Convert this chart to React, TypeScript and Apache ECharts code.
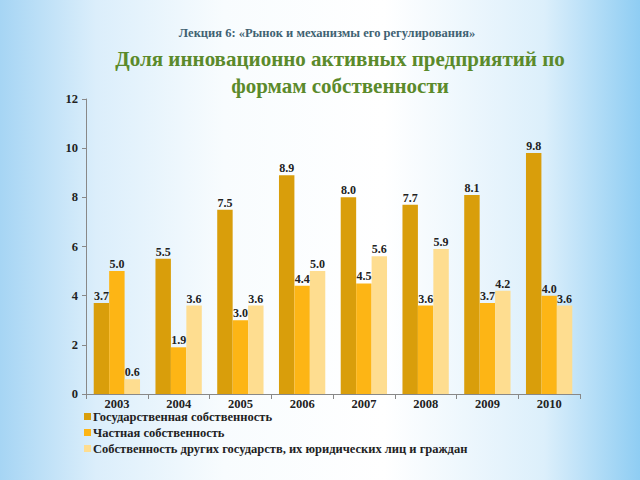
import React, { useEffect, useRef } from "react";
import * as echarts from "echarts";

const years = ["2003", "2004", "2005", "2006", "2007", "2008", "2009", "2010"];
const stateOwned = [3.7, 5.5, 7.5, 8.9, 8.0, 7.7, 8.1, 9.8];
const privateOwned = [5.0, 1.9, 3.0, 4.4, 4.5, 3.6, 3.7, 4.0];
const foreignOwned = [0.6, 3.6, 3.6, 5.0, 5.6, 5.9, 4.2, 3.6];
const seriesNames = [
  "Государственная собственность",
  "Частная собственность",
  "Собственность других государств, их юридических лиц и граждан",
];
const yTicks = [0, 2, 4, 6, 8, 10, 12];

const FONT = "'Liberation Serif', 'DejaVu Serif', serif";
const colors = ["#D99E0B", "#FDB515", "#FEDD90"];

export default function App() {
  const ref = useRef<HTMLDivElement>(null);
  useEffect(() => {
    if (!ref.current) return;
    const chart = echarts.init(ref.current, null, { renderer: "svg" });
    const mk = (name: string, data: number[], i: number) => ({
      name,
      type: "bar",
      data,
      barGap: "0%",
      barCategoryGap: "25%",
      itemStyle: { color: colors[i] },
      label: {
        show: true,
        position: "top",
        distance: 1,
        formatter: (p: any) => Number(p.value).toFixed(1),
        fontFamily: FONT,
        fontWeight: "bold",
        fontSize: 12,
        color: "#222",
      },
    });
    chart.setOption({
      animation: false,
      backgroundColor: {
        type: "linear",
        x: 0,
        y: 0,
        x2: 1,
        y2: 0,
        colorStops: [
          { offset: 0, color: "#a6d5f4" },
          { offset: 0.15, color: "#dbeefb" },
          { offset: 0.35, color: "#f8fcfe" },
          { offset: 0.6, color: "#ffffff" },
          { offset: 0.85, color: "#dcEffb" },
          { offset: 1, color: "#8fcdf3" },
        ],
      },
      title: [
        {
          text: "Лекция 6: «Рынок и механизмы его регулирования»",
          left: 322,
          top: 21,
          textAlign: "center",
          textStyle: { fontFamily: FONT, fontSize: 12.5, fontWeight: "bold", color: "#3f6272" },
        },
        {
          text: "Доля инновационно активных предприятий по\nформам собственности",
          left: 335,
          top: 40,
          textAlign: "center",
          textStyle: {
            fontFamily: FONT,
            fontSize: 21,
            fontWeight: "bold",
            color: "#5b8a2b",
            lineHeight: 27,
          },
        },
      ],
      legend: {
        orient: "vertical",
        left: 84,
        top: 410,
        padding: 0,
        itemWidth: 7,
        itemHeight: 7,
        itemGap: 3,
        icon: "rect",
        textStyle: {
          fontFamily: FONT,
          fontSize: 12.5,
          lineHeight: 13,
          fontWeight: "bold",
          color: "#222",
          padding: [0, 0, 0, -3],
        },
        data: seriesNames,
      },
      grid: { left: 86, right: 60, top: 99, bottom: 86 },
      xAxis: {
        type: "category",
        data: years,
        axisLine: { lineStyle: { color: "#888" } },
        axisTick: { show: true, lineStyle: { color: "#888" } },
        axisLabel: {
          fontFamily: FONT,
          fontSize: 12.5,
          lineHeight: 12,
          fontWeight: "bold",
          color: "#222",
          margin: 4,
        },
      },
      yAxis: {
        type: "value",
        min: yTicks[0],
        max: yTicks[yTicks.length - 1],
        interval: 2,
        splitLine: { show: false },
        axisLine: { show: true, lineStyle: { color: "#888" } },
        axisTick: { show: true, length: 4, lineStyle: { color: "#888" } },
        axisLabel: { fontFamily: FONT, fontSize: 12.5, fontWeight: "bold", color: "#222", margin: 8 },
      },
      series: [
        mk(seriesNames[0], stateOwned, 0),
        mk(seriesNames[1], privateOwned, 1),
        mk(seriesNames[2], foreignOwned, 2),
      ],
    });
    return () => chart.dispose();
  }, []);
  return (
    <div
      ref={ref}
      style={{ position: "fixed", left: 0, top: 0, width: 640, height: 480 }}
    />
  );
}
